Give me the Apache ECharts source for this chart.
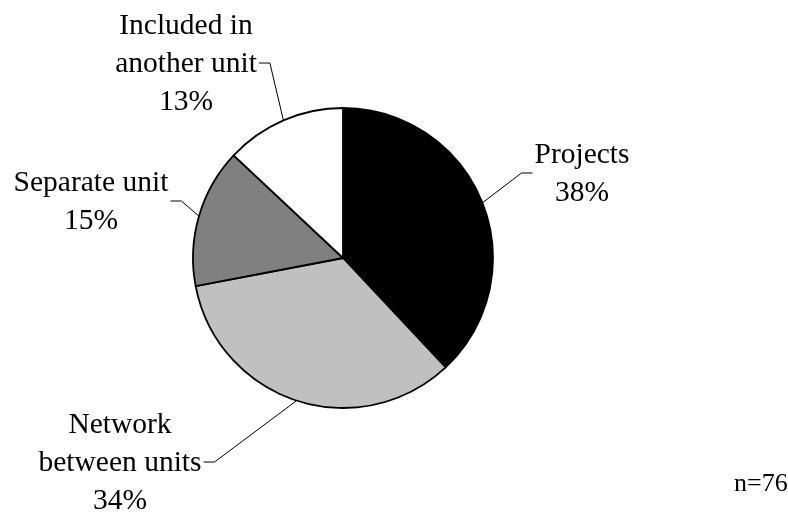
<!DOCTYPE html>
<html>
<head>
<meta charset="utf-8">
<script src="https://cdn.jsdelivr.net/npm/echarts@6/dist/echarts.min.js"></script>
<style>
  html, body { margin: 0; padding: 0; background: #ffffff; }
  #chart { width: 788px; height: 518px; }
</style>
</head>
<body>
<div id="chart"></div>
<script>
// Organisation of the work: share of respondents (%)
const categories = ['Projects', 'Network\nbetween units', 'Separate unit', 'Included in\nanother unit'];
const shares = [38, 34, 15, 13];
const sampleNote = 'n=76';

// Slice fills, clockwise from 12 o'clock
const fills = ['#000000', '#c0c0c0', '#808080', '#ffffff'];

// Where each label sits (centre of the text block) and which side its leader line meets
const labelSpots = [
  { x: 582, y: 174, side: 'left' },
  { x: 120, y: 463, side: 'right' },
  { x: 91,  y: 202, side: 'right' },
  { x: 186, y: 64,  side: 'right' }
];

const FONT = '"Liberation Serif", "Times New Roman", serif';

const chart = echarts.init(document.getElementById('chart'), null, { renderer: 'canvas' });

chart.setOption({
  backgroundColor: '#ffffff',
  animation: false,
  title: {
    text: sampleNote,
    left: 729,
    top: 466,
    textStyle: { fontFamily: FONT, fontSize: 26, fontWeight: 'normal', color: '#000000' }
  },
  series: [{
    type: 'pie',
    center: [343, 258],
    radius: 150,
    startAngle: 90,
    clockwise: true,
    avoidLabelOverlap: false,
    data: categories.map((name, i) => ({
      name: name,
      value: shares[i],
      itemStyle: { color: fills[i] }
    })),
    itemStyle: { borderColor: '#000000', borderWidth: 1.8 },
    emphasis: { disabled: true },
    label: {
      show: true,
      formatter: '{b}\n{c}%',
      fontFamily: FONT,
      fontSize: 29.5,
      lineHeight: 38,
      color: '#000000',
      align: 'center'
    },
    labelLine: {
      show: true,
      length: 20,
      length2: 10,
      lineStyle: { color: '#000000', width: 1 }
    },
    labelLayout: function (p) {
      const spot = labelSpots[p.dataIndex];
      const half = p.labelRect.width / 2;
      const start = p.labelLinePoints ? p.labelLinePoints[0] : [spot.x, spot.y];
      const edgeX = spot.side === 'left' ? spot.x - half - 2 : spot.x + half + 2;
      const elbowX = spot.side === 'left' ? edgeX - 11 : edgeX + 11;
      return {
        x: spot.x,
        y: spot.y,
        align: 'center',
        verticalAlign: 'middle',
        labelLinePoints: [start, [elbowX, spot.y - 1], [edgeX, spot.y - 1]]
      };
    }
  }]
});
</script>
</body>
</html>
